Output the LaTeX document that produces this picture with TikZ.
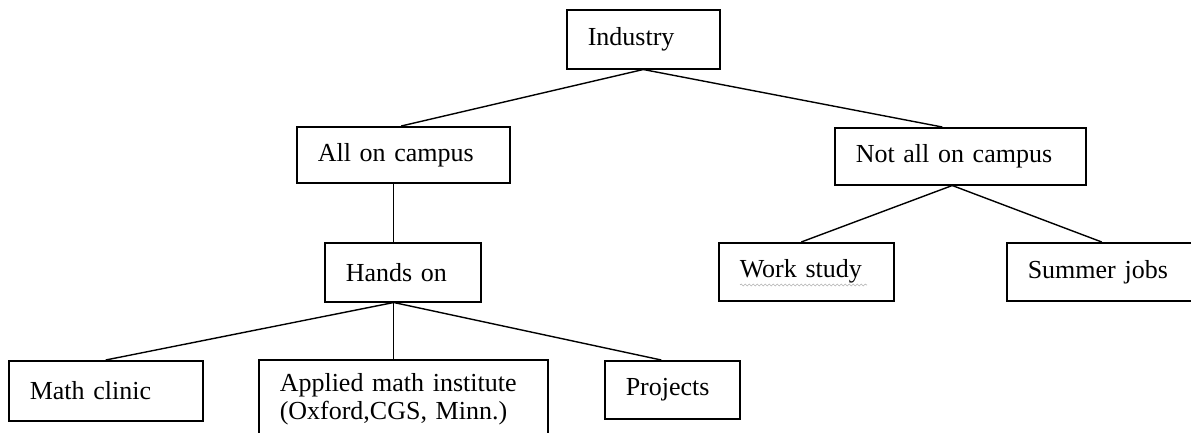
\documentclass[tikz,border=0pt]{standalone}
\usepackage{fontspec}
\setmainfont{Liberation Serif}
\usetikzlibrary{decorations.pathmorphing}

\begin{document}
\begin{tikzpicture}[x=1pt,y=-1pt,
  box/.style={draw,line width=1.5pt,anchor=north west,align=left,
    inner xsep=21pt,inner ysep=0pt,font=\fontsize{26}{28}\selectfont},
  link/.style={line width=1.4pt}]
\clip (0,0) rectangle (1191,432);
\node[box,text width=111pt,minimum height=59pt] (industry) at (566,9) {Industry};
\node[box,text width=171pt,minimum height=56pt] (allon) at (296,126) {All on campus};
\node[box,text width=209pt,minimum height=57pt] (notall) at (834,127) {Not all on campus};
\node[box,text width=114pt,minimum height=59pt] (hands) at (324,242) {Hands on};
\node[box,text width=133pt,minimum height=58pt] (work) at (718,242) {Work study};
\node[box,text width=148pt,minimum height=58pt] (summer) at (1006,242) {Summer jobs};
\node[box,text width=152pt,minimum height=60pt] (clinic) at (8,360) {Math clinic};
\node[box,text width=247pt,minimum height=78pt] (applied) at (258,359) {Applied math institute\\(Oxford,CGS, Minn.)};
\node[box,text width=93pt,minimum height=58pt] (projects) at (604,360) {Projects};

\draw[link] (industry.south) -- ([xshift=-2pt]allon.north);
\draw[link] (industry.south) -- ([xshift=-18pt]notall.north);
\draw[link] ([xshift=-9.5pt]allon.south) -- ([xshift=-9pt]hands.north);
\draw[link] ([xshift=-8pt]notall.south) -- ([xshift=-5pt]work.north);
\draw[link] ([xshift=-8pt]notall.south) -- (summer.north);
\draw[link] ([xshift=-9pt]hands.south) -- (clinic.north);
\draw[link] ([xshift=-9pt]hands.south) -- ([xshift=-9.5pt]applied.north);
\draw[link] ([xshift=-9pt]hands.south) -- ([xshift=-11pt]projects.north);

% spelling squiggle
\draw[gray!60,line width=0.6pt,decorate,decoration={snake,amplitude=1pt,segment length=4pt}]
  (740,285) -- (867,285);
\end{tikzpicture}
\end{document}
